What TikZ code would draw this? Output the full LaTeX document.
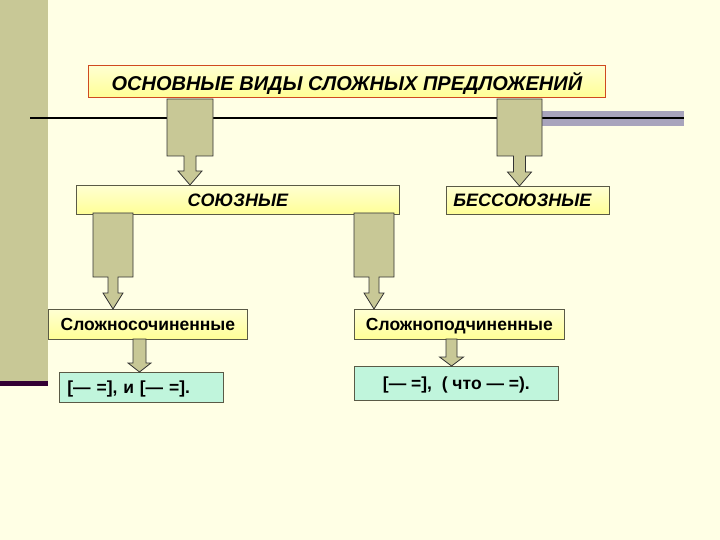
\documentclass[tikz,border=0pt]{standalone}
\usepackage{fontspec}
\setmainfont{Liberation Sans}
\usetikzlibrary{calc}

\definecolor{paper}{HTML}{FFFFE5}
\definecolor{khaki}{HTML}{C8C896}
\definecolor{plum}{HTML}{330033}
\definecolor{band}{HTML}{A8A4BC}
\definecolor{boxtop}{HTML}{FFFFD2}
\definecolor{boxbot}{HTML}{FFFF96}
\definecolor{mint}{HTML}{C0F5DC}
\definecolor{rim}{HTML}{5A5A46}
\definecolor{redrim}{HTML}{D04A20}

% block arrow with a box on top: top point, tip, body half width, body height, stem half width, head half width, head height
\newcommand{\callarrow}[7]{%
  \draw[arrowfill] ($(#1)+(-#3,0)$) -- ($(#1)+(#3,0)$) -- ($(#1)+(#3,#4)$)
    -- ($(#1)+(#5,#4)$) -- ($(#2)+(#5,-#7)$) -- ($(#2)+(#6,-#7)$) -- (#2)
    -- ($(#2)+(-#6,-#7)$) -- ($(#2)+(-#5,-#7)$) -- ($(#1)+(-#5,#4)$)
    -- ($(#1)+(-#3,#4)$) -- cycle;}
% plain block arrow: top point, tip, shaft half width, head half width, head height
\newcommand{\blockarrow}[5]{%
  \draw[arrowfill] ($(#1)+(-#3,0)$) -- ($(#1)+(#3,0)$) -- ($(#2)+(#3,-#5)$)
    -- ($(#2)+(#4,-#5)$) -- (#2) -- ($(#2)+(-#4,-#5)$) -- ($(#2)+(-#3,-#5)$) -- cycle;}

\begin{document}
\begin{tikzpicture}[x=1pt,y=-1pt,
    arrowfill/.style={fill=khaki,draw=black!80,line width=0.8pt,line join=miter},
    yellowbox/.style={draw=rim,line width=0.8pt,top color=boxtop,bottom color=boxbot,
      inner sep=0pt,text depth=0pt,anchor=north west},
    mintbox/.style={draw=rim,line width=0.8pt,fill=mint,inner sep=0pt,text depth=0pt,anchor=north west},
    headfont/.style={font=\fontsize{18}{20}\selectfont\bfseries\itshape},
    plainfont/.style={font=\fontsize{17.5}{19}\selectfont\bfseries}]
  % page
  \fill[paper] (0,0) rectangle (720,540);
  \useasboundingbox (0,0) rectangle (720,540);
  \fill[khaki] (0,0) rectangle (48,381);
  \fill[plum] (0,381) rectangle (48,386);

  % rules under the title
  \fill[band] (542,111) rectangle (684,126);
  \draw[line width=2pt] (30,118) -- (684,118);

  % boxes
  \node[yellowbox,draw=redrim,font=\fontsize{20}{22}\selectfont\bfseries\itshape,
    minimum width=517,minimum height=32] (main) at (88,65) {ОСНОВНЫЕ ВИДЫ СЛОЖНЫХ ПРЕДЛОЖЕНИЙ};
  \node[yellowbox,headfont,minimum width=323,minimum height=29] (soyuz) at (76,185) {СОЮЗНЫЕ};
  \node[yellowbox,headfont,minimum width=163,minimum height=28,text width=156,align=left]
    (bessoyuz) at (446,186) {\hspace*{3.5pt}БЕССОЮЗНЫЕ};
  \node[yellowbox,plainfont,minimum width=199,minimum height=30] (compound) at (48,309) {Сложносочиненные};
  \node[yellowbox,plainfont,minimum width=210,minimum height=30] (complex) at (354,309) {Сложноподчиненные};
  \node[mintbox,plainfont,minimum width=164,minimum height=30,text width=164,align=left]
    (scheme1) at (59,372) {\hspace*{8pt}[— =], и [— =].};
  \node[mintbox,plainfont,minimum width=204,minimum height=34] (scheme2) at (354,366) {[— =], \ ( что — =).};

  % arrows
  \coordinate (a1) at (190,99);
  \coordinate (a2) at (519.5,99);
  \coordinate (a3) at (113,213);
  \coordinate (a4) at (374,213);
  \coordinate (a5) at (139.5,339);
  \coordinate (a6) at (451.5,339);
  \callarrow{a1}{soyuz.north -| a1}{23}{57}{6}{12}{14}
  \callarrow{a2}{bessoyuz.north -| a2}{22.5}{57}{6}{12}{14}
  \callarrow{a3}{compound.north -| a3}{20}{64}{5}{10}{16}
  \callarrow{a4}{complex.north -| a4}{20}{64}{5}{10}{16}
  \blockarrow{a5}{scheme1.north -| a5}{6.5}{11.5}{9}
  \blockarrow{a6}{scheme2.north -| a6}{5.5}{12}{9}
\end{tikzpicture}
\end{document}
